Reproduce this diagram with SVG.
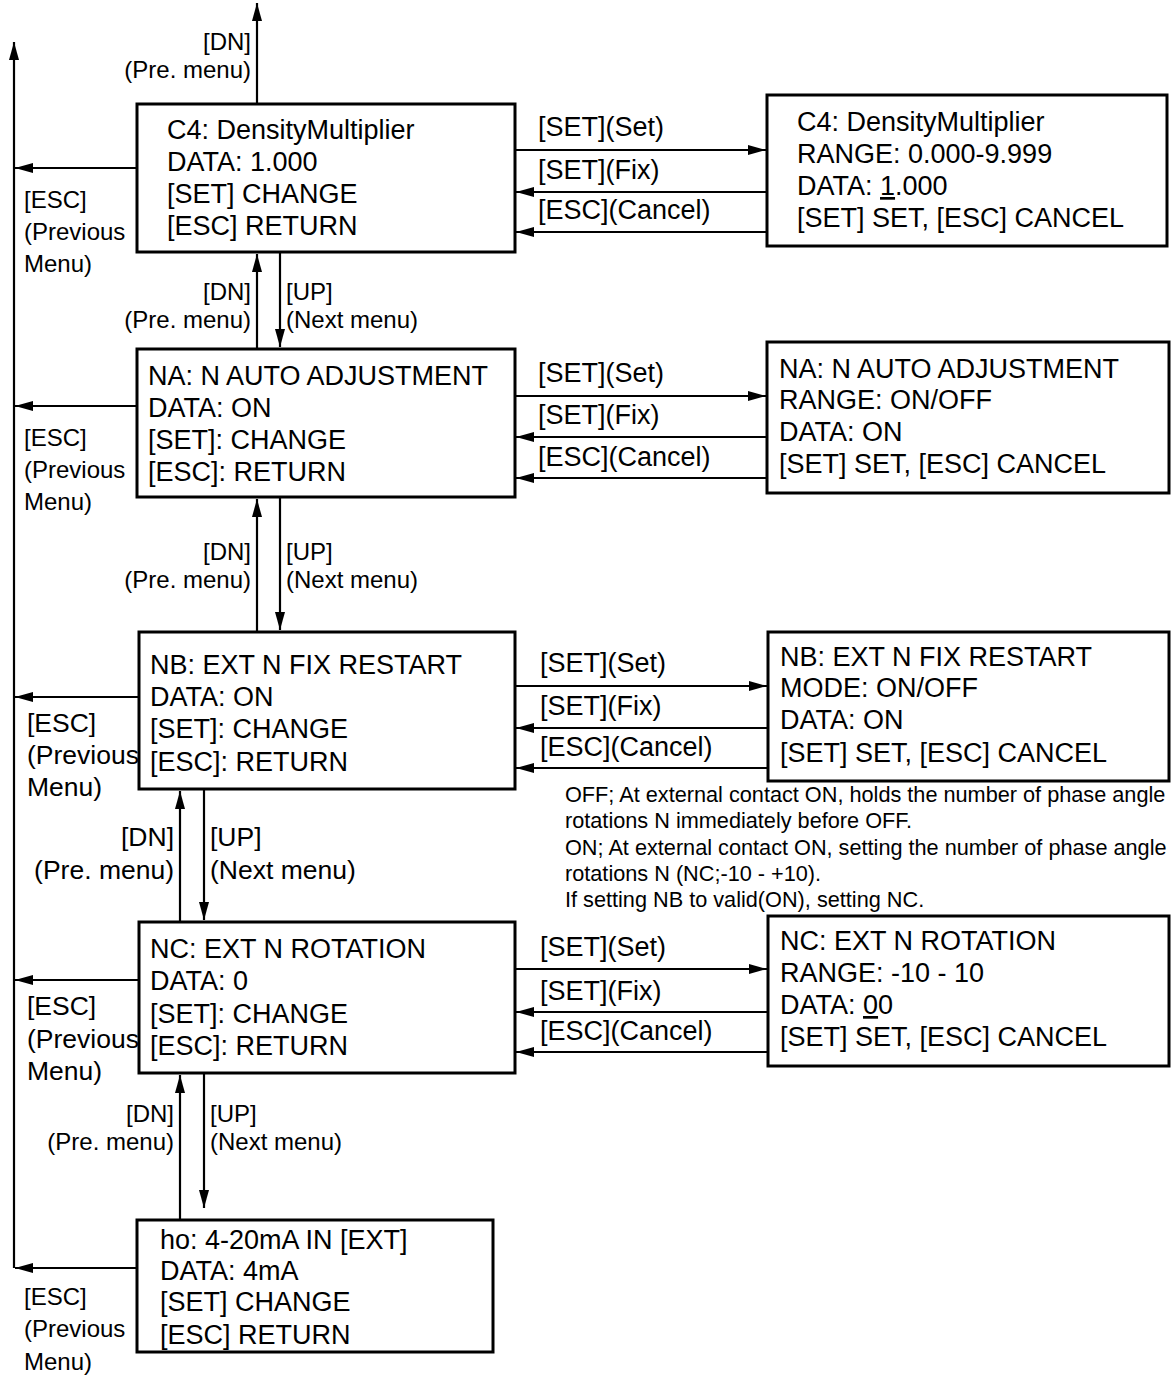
<svg xmlns="http://www.w3.org/2000/svg" width="1171" height="1375" viewBox="0 0 1171 1375">
<style>
text{font-family:"Liberation Sans",Arial,sans-serif;fill:#000}
.bx{fill:#fff;stroke:#000;stroke-width:3}
.t{font-size:27px}
.l{font-size:27px}
.s{font-size:24px}
.m{font-size:26.5px}
.n{font-size:21.7px}
.c{stroke:#000;stroke-width:2.2;fill:none;marker-end:url(#ah)}
.r{text-anchor:end}
</style>
<defs>
<marker id="ah" viewBox="0 0 18 10" refX="18" refY="5" markerWidth="18" markerHeight="10" orient="auto" markerUnits="userSpaceOnUse">
<path d="M0,0 L18,5 L0,10 z" fill="#000"/>
</marker>
</defs>

<g id="connectors">
<line class="c" x1="257" y1="104" x2="257" y2="3"/>
<line class="c" x1="14" y1="1268" x2="14" y2="42"/>
<line class="c" x1="137" y1="168" x2="15" y2="168"/>
<line class="c" x1="137" y1="406" x2="15" y2="406"/>
<line class="c" x1="139" y1="697" x2="15" y2="697"/>
<line class="c" x1="139" y1="980" x2="15" y2="980"/>
<line class="c" x1="137" y1="1268" x2="15" y2="1268"/>
<line class="c" x1="257" y1="349" x2="257" y2="254"/>
<line class="c" x1="280" y1="252" x2="280" y2="347"/>
<line class="c" x1="257" y1="632" x2="257" y2="499"/>
<line class="c" x1="280" y1="497" x2="280" y2="630"/>
<line class="c" x1="180" y1="922" x2="180" y2="791"/>
<line class="c" x1="204" y1="789" x2="204" y2="920"/>
<line class="c" x1="180" y1="1220" x2="180" y2="1075"/>
<line class="c" x1="204" y1="1073" x2="204" y2="1208"/>
<line class="c" x1="515" y1="150" x2="766" y2="150"/>
<line class="c" x1="767" y1="192" x2="516" y2="192"/>
<line class="c" x1="767" y1="232" x2="516" y2="232"/>
<line class="c" x1="515" y1="396" x2="766" y2="396"/>
<line class="c" x1="767" y1="437" x2="516" y2="437"/>
<line class="c" x1="767" y1="478" x2="516" y2="478"/>
<line class="c" x1="515" y1="686" x2="767" y2="686"/>
<line class="c" x1="768" y1="728" x2="516" y2="728"/>
<line class="c" x1="768" y1="768" x2="516" y2="768"/>
<line class="c" x1="515" y1="969" x2="767" y2="969"/>
<line class="c" x1="768" y1="1012" x2="516" y2="1012"/>
<line class="c" x1="768" y1="1052" x2="516" y2="1052"/>
</g>

<g id="labels">
<text class="s r" x="251" y="50">[DN]</text>
<text class="s r" x="251" y="78">(Pre. menu)</text>
<text class="s" x="24" y="208">[ESC]</text>
<text class="s" x="24" y="240">(Previous</text>
<text class="s" x="24" y="272">Menu)</text>
<text class="s r" x="251" y="300">[DN]</text>
<text class="s r" x="251" y="328">(Pre. menu)</text>
<text class="s" x="286" y="300">[UP]</text>
<text class="s" x="286" y="328">(Next menu)</text>
<text class="s" x="24" y="446">[ESC]</text>
<text class="s" x="24" y="478">(Previous</text>
<text class="s" x="24" y="510">Menu)</text>
<text class="s r" x="251" y="560">[DN]</text>
<text class="s r" x="251" y="588">(Pre. menu)</text>
<text class="s" x="286" y="560">[UP]</text>
<text class="s" x="286" y="588">(Next menu)</text>
<text class="m" x="27" y="732">[ESC]</text>
<text class="m" x="27" y="764">(Previous</text>
<text class="m" x="27" y="796">Menu)</text>
<text class="m r" x="174" y="846">[DN]</text>
<text class="m r" x="174" y="879">(Pre. menu)</text>
<text class="m" x="210" y="846">[UP]</text>
<text class="m" x="210" y="879">(Next menu)</text>
<text class="m" x="27" y="1015">[ESC]</text>
<text class="m" x="27" y="1048">(Previous</text>
<text class="m" x="27" y="1080">Menu)</text>
<text class="s r" x="174" y="1122">[DN]</text>
<text class="s r" x="174" y="1150">(Pre. menu)</text>
<text class="s" x="210" y="1122">[UP]</text>
<text class="s" x="210" y="1150">(Next menu)</text>
<text class="s" x="24" y="1305">[ESC]</text>
<text class="s" x="24" y="1337">(Previous</text>
<text class="s" x="24" y="1370">Menu)</text>
<text class="l" x="538" y="136">[SET](Set)</text>
<text class="l" x="538" y="179">[SET](Fix)</text>
<text class="l" x="538" y="219">[ESC](Cancel)</text>
<text class="l" x="538" y="382">[SET](Set)</text>
<text class="l" x="538" y="424">[SET](Fix)</text>
<text class="l" x="538" y="466">[ESC](Cancel)</text>
<text class="l" x="540" y="672">[SET](Set)</text>
<text class="l" x="540" y="715">[SET](Fix)</text>
<text class="l" x="540" y="756">[ESC](Cancel)</text>
<text class="l" x="540" y="956">[SET](Set)</text>
<text class="l" x="540" y="1000">[SET](Fix)</text>
<text class="l" x="540" y="1040">[ESC](Cancel)</text>
<g id="note">
<text class="n" x="565" y="802">OFF; At external contact ON, holds the number of phase angle</text>
<text class="n" x="565" y="828">rotations N immediately before OFF.</text>
<text class="n" x="565" y="855">ON; At external contact ON, setting the number of phase angle</text>
<text class="n" x="565" y="881">rotations N (NC;-10 - +10).</text>
<text class="n" x="565" y="907">If setting NB to valid(ON), setting NC.</text>
</g>
</g>

<g id="c4">
<rect class="bx" x="137" y="104" width="378" height="148"/>
<text class="t" x="167" y="139">C4: DensityMultiplier</text>
<text class="t" x="167" y="171">DATA: 1.000</text>
<text class="t" x="167" y="203">[SET] CHANGE</text>
<text class="t" x="167" y="235">[ESC] RETURN</text>
</g>
<g id="c4-set">
<rect class="bx" x="767" y="95" width="400" height="151"/>
<text class="t" x="797" y="131">C4: DensityMultiplier</text>
<text class="t" x="797" y="163">RANGE: 0.000-9.999</text>
<text class="t" x="797" y="195">DATA: <tspan text-decoration="underline">1</tspan>.000</text>
<text class="t" x="797" y="227">[SET] SET, [ESC] CANCEL</text>
</g>
<g id="na">
<rect class="bx" x="137" y="349" width="378" height="148"/>
<text class="t" x="148" y="385">NA: N AUTO ADJUSTMENT</text>
<text class="t" x="148" y="417">DATA: ON</text>
<text class="t" x="148" y="449">[SET]: CHANGE</text>
<text class="t" x="148" y="481">[ESC]: RETURN</text>
</g>
<g id="na-set">
<rect class="bx" x="767" y="342" width="402" height="151"/>
<text class="t" x="779" y="378">NA: N AUTO ADJUSTMENT</text>
<text class="t" x="779" y="409">RANGE: ON/OFF</text>
<text class="t" x="779" y="441">DATA: ON</text>
<text class="t" x="779" y="473">[SET] SET, [ESC] CANCEL</text>
</g>
<g id="nb">
<rect class="bx" x="139" y="632" width="376" height="157"/>
<text class="t" x="150" y="674">NB: EXT N FIX RESTART</text>
<text class="t" x="150" y="706">DATA: ON</text>
<text class="t" x="150" y="738">[SET]: CHANGE</text>
<text class="t" x="150" y="771">[ESC]: RETURN</text>
</g>
<g id="nb-set">
<rect class="bx" x="768" y="632" width="401" height="149"/>
<text class="t" x="780" y="666">NB: EXT N FIX RESTART</text>
<text class="t" x="780" y="697">MODE: ON/OFF</text>
<text class="t" x="780" y="729">DATA: ON</text>
<text class="t" x="780" y="762">[SET] SET, [ESC] CANCEL</text>
</g>
<g id="nc">
<rect class="bx" x="139" y="922" width="376" height="151"/>
<text class="t" x="150" y="958">NC: EXT N ROTATION</text>
<text class="t" x="150" y="990">DATA: 0</text>
<text class="t" x="150" y="1023">[SET]: CHANGE</text>
<text class="t" x="150" y="1055">[ESC]: RETURN</text>
</g>
<g id="nc-set">
<rect class="bx" x="768" y="916" width="401" height="150"/>
<text class="t" x="780" y="950">NC: EXT N ROTATION</text>
<text class="t" x="780" y="982">RANGE: -10 - 10</text>
<text class="t" x="780" y="1014">DATA: <tspan text-decoration="underline">0</tspan>0</text>
<text class="t" x="780" y="1046">[SET] SET, [ESC] CANCEL</text>
</g>
<g id="ho">
<rect class="bx" x="137" y="1220" width="356" height="132"/>
<text class="t" x="160" y="1249">ho: 4-20mA IN [EXT]</text>
<text class="t" x="160" y="1280">DATA: 4mA</text>
<text class="t" x="160" y="1311">[SET] CHANGE</text>
<text class="t" x="160" y="1344">[ESC] RETURN</text>
</g>
</svg>
